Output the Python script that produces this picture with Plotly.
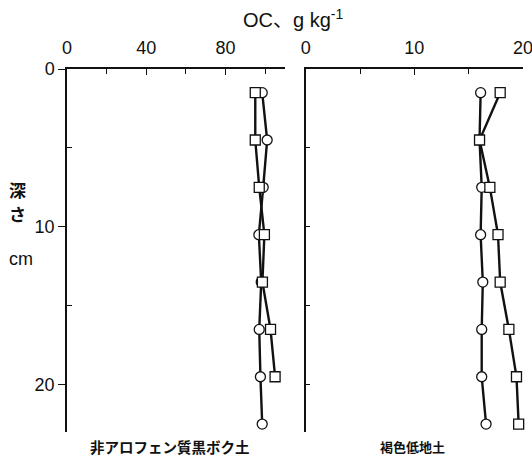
import plotly.graph_objects as go

# Depth of each sampling layer (cm)
depth = [1.5, 4.5, 7.5, 10.5, 13.5, 16.5, 19.5, 22.5]

# 非アロフェン質黒ボク土 (OC, g/kg)
andosol_circle = [98.5, 101, 99, 96.8, 98, 97, 97.6, 98.5]
andosol_square = [95, 95, 97, 99.6, 98.6, 102.7, 105]

# 褐色低地土 (OC, g/kg)
lowland_circle = [16.1, 16.0, 16.2, 16.1, 16.3, 16.2, 16.2, 16.6]
lowland_square = [17.9, 16.0, 16.95, 17.7, 17.9, 18.7, 19.4, 19.6]

panel_labels = ["非アロフェン質黒ボク土", "褐色低地土"]

W, H = 532, 458
ML, MR, MT, MB = 67, 9, 69, 26
PW, PH = W - ML - MR, H - MT - MB

FONT = "Liberation Sans, Arial, Noto Sans CJK JP"
BLACK = "#111111"


def px_x(px):
    return (px - ML) / PW


def px_y(py):
    return 1 - (py - MT) / PH


fig = go.Figure()

line_style = dict(color=BLACK, width=2.4)


def add_series(x, y, symbol, xa, ya):
    fig.add_trace(go.Scatter(
        x=x, y=y, mode="lines+markers", xaxis=xa, yaxis=ya,
        line=line_style,
        marker=dict(symbol=symbol, size=10, color="white",
                    line=dict(color=BLACK, width=1.3)),
        showlegend=False, cliponaxis=False,
    ))


add_series(andosol_circle, depth, "circle", "x", "y")
add_series(andosol_square, depth[:len(andosol_square)], "square", "x", "y")
add_series(lowland_circle, depth, "circle", "x2", "y2")
add_series(lowland_square, depth, "square", "x2", "y2")

axis_common = dict(
    showgrid=False, zeroline=False, showline=True, linecolor=BLACK,
    linewidth=1.5, tickcolor=BLACK, tickwidth=1.2,
    tickfont=dict(family=FONT, size=18, color=BLACK),
    ticklabeloverflow="allow", automargin=False,
)

fig.update_layout(
    width=W, height=H,
    margin=dict(l=ML, r=MR, t=MT, b=MB, autoexpand=False),
    paper_bgcolor="white", plot_bgcolor="white",
    xaxis=dict(
        **axis_common, domain=[0, px_x(285)], range=[0, 110], side="top",
        anchor="y", tickvals=[0, 40, 80], ticks="inside", ticklen=6,
        ticklabelstandoff=6,
        minor=dict(tickvals=[20, 60, 100], ticks="inside", ticklen=5,
                   tickcolor=BLACK, tickwidth=1.2),
    ),
    yaxis=dict(
        **axis_common, domain=[0, 1], range=[23, 0], anchor="x",
        tickvals=[0, 10, 20], ticks="outside", ticklen=7,
        minor=dict(tickvals=[5, 15], ticks="inside", ticklen=5,
                   tickcolor=BLACK, tickwidth=1.2),
    ),
    xaxis2=dict(
        **axis_common, domain=[px_x(305.7), 1], range=[0, 20], side="top",
        anchor="y2", tickvals=[0, 10, 20], ticks="inside", ticklen=6,
        ticklabelstandoff=6,
        minor=dict(tickvals=[5, 15], ticks="inside", ticklen=5,
                   tickcolor=BLACK, tickwidth=1.2),
    ),
    yaxis2=dict(
        **axis_common, domain=[0, 1], range=[23, 0], anchor="x2",
        tickvals=[5, 10, 15, 20], ticks="inside", ticklen=5,
        showticklabels=False,
    ),
)

annotations = [
    dict(text="OC、g kg<sup>-1</sup>", x=px_x(293), y=px_y(18),
         font=dict(family=FONT, size=20, color=BLACK)),
    dict(text="<b>深</b>", x=px_x(17), y=px_y(189),
         font=dict(family="Noto Sans CJK JP", size=17, color=BLACK)),
    dict(text="<b>さ</b>", x=px_x(17), y=px_y(214),
         font=dict(family="Noto Sans CJK JP", size=17, color=BLACK)),
    dict(text="cm", x=px_x(21), y=px_y(259),
         font=dict(family=FONT, size=18, color=BLACK)),
    dict(text="<b>%s</b>" % panel_labels[0], x=px_x(170), y=px_y(446),
         font=dict(family="Noto Sans CJK JP", size=14.5, color=BLACK)),
    dict(text="<b>%s</b>" % panel_labels[1], x=px_x(412), y=px_y(446),
         font=dict(family="Noto Sans CJK JP", size=13, color=BLACK)),
]
for a in annotations:
    fig.add_annotation(xref="paper", yref="paper", showarrow=False,
                       xanchor="center", yanchor="middle", **a)

fig.write_html("out.html")
